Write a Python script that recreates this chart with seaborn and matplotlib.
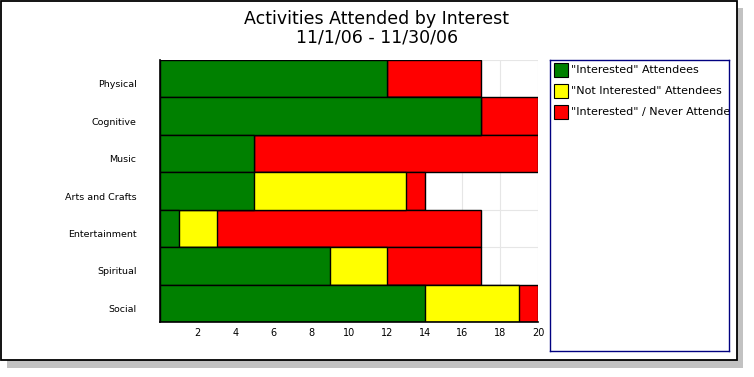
import numpy as np
import pandas as pd
import seaborn as sns
import matplotlib.pyplot as plt
import matplotlib.transforms as mtransforms
from matplotlib.patches import Rectangle

categories = ['Physical', 'Cognitive', 'Music', 'Arts and Crafts',
              'Entertainment', 'Spiritual', 'Social']
interested = [12, 17, 5, 5, 1, 9, 14]
not_interested = [0, 0, 0, 8, 2, 3, 5]
never_attended = [5, 3, 15, 1, 14, 5, 1]
series_names = ['"Interested" Attendees', '"Not Interested" Attendees',
                '"Interested" / Never Attended']
series_colors = ['#008000', '#FFFF00', '#FF0000']
x_ticks = [2, 4, 6, 8, 10, 12, 14, 16, 18, 20]

df = pd.DataFrame({'activity': categories,
                   'green': interested,
                   'yellow': not_interested,
                   'red': never_attended})
df['c1'] = df['green']
df['c2'] = df['green'] + df['yellow']
df['c3'] = df['c2'] + df['red']

sns.set_style('white')
plt.rcParams['font.family'] = ['DejaVu Sans']
plt.rcParams['text.color'] = 'black'
plt.rcParams['xtick.color'] = 'black'
plt.rcParams['ytick.color'] = 'black'

W, H = 754, 377
fig = plt.figure(figsize=(W / 100, H / 100), dpi=100)

# frame with drop shadow
fig.patches.append(Rectangle((7 / W, 1 - 368 / H), 736 / W, 360 / H,
                             transform=fig.transFigure, facecolor='#9a9a9a',
                             edgecolor='none', alpha=0.6, zorder=0))
fig.patches.append(Rectangle((1 / W, 1 - 360 / H), 736 / W, 359 / H,
                             transform=fig.transFigure, facecolor='white',
                             edgecolor='black', linewidth=1.3, zorder=1))

ax = fig.add_axes([160 / W, 1 - 322 / H, 378 / W, 262 / H])
ax.set_zorder(2)
ax.patch.set_alpha(0)

for col, color in zip(['c3', 'c2', 'c1'], series_colors[::-1]):
    sns.barplot(data=df, x=col, y='activity', orient='h', color=color,
                width=1.0, edgecolor='black', linewidth=1, saturation=1, ax=ax)

ax.set_xlim(0, 20)
ax.set_ylim(len(categories) - 0.5, -0.5)
ax.set_xticks(x_ticks)
ax.set_xticklabels([str(t) for t in x_ticks], fontsize=7)
ax.tick_params(axis='y', labelsize=6.8, length=0, pad=17)
ax.tick_params(axis='x', length=0, pad=4)
ax.set_xlabel('')
ax.set_ylabel('')
ax.set_yticks(range(len(categories)))
ax.set_yticks(np.arange(-0.5, len(categories), 1), minor=True)
ax.grid(True, axis='x', color='#e6e6e6', linewidth=0.8)
ax.grid(True, axis='y', which='minor', color='#e6e6e6', linewidth=0.8)
ax.set_axisbelow(True)
for side in ['top', 'right']:
    ax.spines[side].set_visible(False)
for side in ['left', 'bottom']:
    ax.spines[side].set_color('black')
    ax.spines[side].set_linewidth(1.2)

# category labels sit a little below the bar centres in the original
offset = mtransforms.ScaledTranslation(0, -5 / 100, fig.dpi_scale_trans)
for lab in ax.get_yticklabels():
    lab.set_transform(lab.get_transform() + offset)

fig.text(0.5, 1 - 10 / H, 'Activities Attended by Interest\n11/1/06 - 11/30/06',
         ha='center', va='top', fontsize=12.5, linespacing=1.05)

# legend box
lax = fig.add_axes([550 / W, 1 - 351 / H, 179 / W, 291 / H])
lax.set_zorder(3)
lax.set_xlim(0, 179)
lax.set_ylim(291, 0)
lax.set_xticks([])
lax.set_yticks([])
for s in lax.spines.values():
    s.set_color('#000080')
    s.set_linewidth(1)
for i, (name, color) in enumerate(zip(series_names, series_colors)):
    yc = 10 + i * 21
    lax.add_patch(Rectangle((4, yc - 7), 14, 14, facecolor=color,
                            edgecolor='black', linewidth=0.8))
    t = lax.text(21, yc, name, va='center', ha='left', fontsize=8)
    t.set_clip_on(True)

fig.savefig('out.png', dpi=100)
